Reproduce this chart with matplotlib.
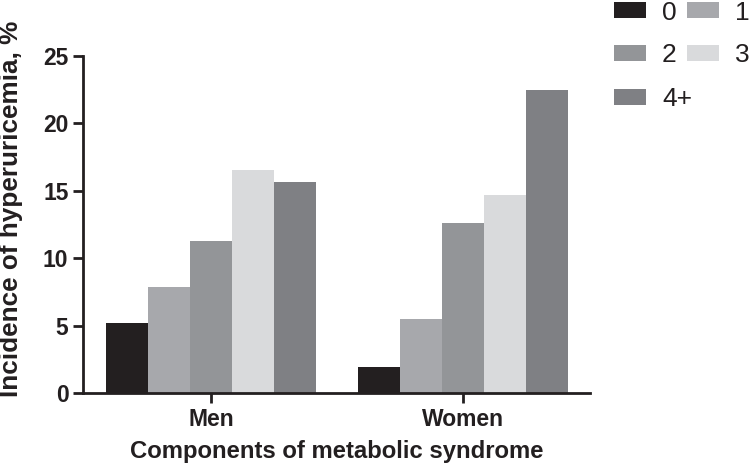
import matplotlib
matplotlib.use("Agg")
import matplotlib.pyplot as plt
import numpy as np
from matplotlib.patches import Rectangle

plt.rcParams['font.family'] = ['Liberation Sans', 'DejaVu Sans']

groups = ["Men", "Women"]
components = ["0", "1", "2", "3", "4+"]
men = [5.17, 7.89, 11.28, 16.57, 15.68]
women = [1.90, 5.49, 12.59, 14.69, 22.48]
colors = ["#231f20", "#a7a8ac", "#939598", "#d9dadc", "#7f8084"]
yticks = [0, 5, 10, 15, 20, 25]

W, H = 750, 463
fig = plt.figure(figsize=(7.5, 4.63), dpi=100)
ax = fig.add_axes([83 / W, 1 - 393 / H, (590 - 83) / W, (393 - 56) / H])

x = np.arange(len(groups))
w = 1 / 6
values = np.array([men, women])
for i, comp in enumerate(components):
    ax.bar(x + (i - 2) * w, values[:, i], width=w, color=colors[i],
           edgecolor='none', label=comp)

ax.set_xlim(-0.507, 1.504)
ax.set_ylim(0, 25)
ax.set_yticks(yticks)
ax.set_xticks(x)
ax.set_xticklabels(groups)
for s in ['top', 'right']:
    ax.spines[s].set_visible(False)
for s in ['left', 'bottom']:
    ax.spines[s].set_linewidth(2)
    ax.spines[s].set_color('#231f20')
ax.tick_params(axis='both', width=2, length=7, color='#231f20',
               labelsize=16.5, labelcolor='#231f20')
for lab in ax.get_xticklabels() + ax.get_yticklabels():
    lab.set_fontweight('bold')
ax.set_ylabel("Incidence of hyperuricemia, %", fontsize=18.8, fontweight='bold',
              color='#231f20')
ax.yaxis.set_label_coords(-60 / 507, (393 - 209) / 337)
ax.set_xlabel("Components of metabolic syndrome", fontsize=17.2, fontweight='bold',
              color='#231f20', labelpad=7)

# legend (two columns: 0,2,4+ / 1,3)
col_x = [614, 687]
row_y = [2, 45, 89]
order = [(0, 0, 0), (1, 1, 0), (2, 0, 1), (3, 1, 1), (4, 0, 2)]
for idx, c, r in order:
    x0 = col_x[c]
    y0 = row_y[r]
    fig.add_artist(Rectangle((x0 / W, 1 - (y0 + 16) / H), 32 / W, 16 / H,
                             transform=fig.transFigure, color=colors[idx],
                             linewidth=0))
    fig.text((x0 + 48) / W, 1 - (y0 + 8) / H, components[idx], fontsize=19,
             color='#231f20', va='center_baseline', ha='left')

fig.savefig("out.png", dpi=100)
